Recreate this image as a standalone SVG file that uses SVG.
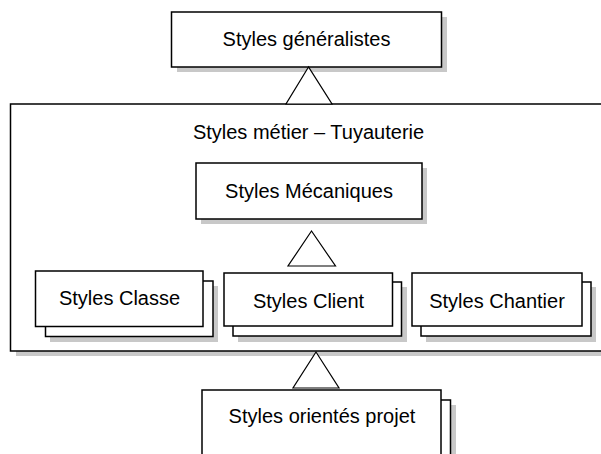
<svg xmlns="http://www.w3.org/2000/svg" width="601" height="454" viewBox="0 0 601 454">
<style>
.box{fill:#fff;stroke:#000;stroke-width:1.5}
.sh{fill:#c8c8c8;stroke:none}
.lbl{font-family:"Liberation Sans",Arial,sans-serif;font-size:20px;fill:#000;text-anchor:middle}
.tri{fill:#fff;stroke:#000;stroke-width:1.2;stroke-linejoin:miter}
</style>
<rect width="601" height="454" fill="#fff"/>
<g id="metier">
<rect class="sh" x="16" y="109" width="620" height="247"/>
<rect class="box" x="10.5" y="104" width="620" height="247"/>
<text class="lbl" x="308.5" y="139">Styles métier – Tuyauterie</text>
</g>
<g id="generalistes">
<rect class="sh" x="177" y="17" width="270" height="55"/>
<rect class="box" x="171.5" y="12" width="270" height="55"/>
<text class="lbl" x="306.5" y="46">Styles généralistes</text>
</g>
<g id="mecaniques">
<rect class="sh" x="201" y="168" width="226" height="56"/>
<rect class="box" x="196" y="163" width="226" height="56"/>
<text class="lbl" x="309" y="198">Styles Mécaniques</text>
</g>
<g id="classe">
<rect class="sh" x="50" y="286" width="168" height="56"/>
<rect class="box" x="45.5" y="281" width="167.5" height="55.5"/>
<rect class="box" x="35.5" y="271" width="167.5" height="55.5"/>
<text class="lbl" x="119.5" y="305">Styles Classe</text>
</g>
<g id="client">
<rect class="sh" x="238" y="287" width="169" height="55"/>
<rect class="box" x="233" y="282" width="168.5" height="54"/>
<rect class="box" x="224" y="273" width="168.5" height="53"/>
<text class="lbl" x="308.5" y="308">Styles Client</text>
</g>
<g id="chantier">
<rect class="sh" x="426" y="287" width="170" height="55"/>
<rect class="box" x="421" y="282" width="170" height="54"/>
<rect class="box" x="412" y="273" width="170" height="53"/>
<text class="lbl" x="497" y="308">Styles Chantier</text>
</g>
<g id="projet">
<rect class="sh" x="217" y="405" width="239" height="60"/>
<rect class="box" x="211.5" y="400" width="239" height="60"/>
<rect class="box" x="202" y="390" width="239" height="70"/>
<text class="lbl" x="322" y="423">Styles orientés projet</text>
</g>
<g id="connectors">
<polygon class="tri" points="308.5,67 286,104 332,104"/>
<polygon class="tri" points="311.5,231 288,266 335.5,266"/>
<polygon class="tri" points="316,352 293,388 339,388"/>
</g>
</svg>
